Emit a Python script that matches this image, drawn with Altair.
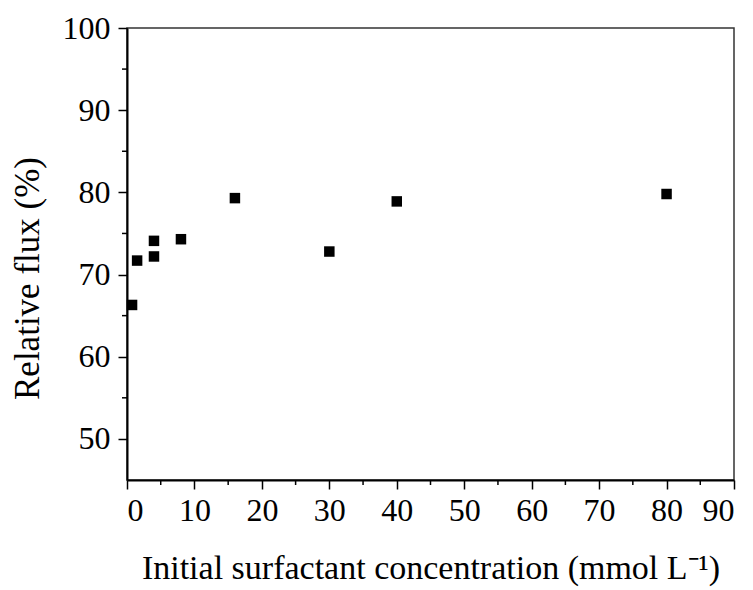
import altair as alt
import pandas as pd

# Data
concentration = [0.75, 1.5, 4, 4, 8, 16, 30, 40, 80]
relative_flux = [66.3, 71.7, 72.2, 74.1, 74.3, 79.3, 72.8, 78.9, 79.8]

x_major = list(range(0, 91, 10))
x_minor = list(range(5, 90, 10))
y_major = list(range(50, 101, 10))
y_minor = list(range(55, 100, 10))

df = pd.DataFrame({"c": concentration, "flux": relative_flux})
df_xm = pd.DataFrame({"c": x_minor})
df_ym = pd.DataFrame({"flux": y_minor})

FONT = "Liberation Serif"
W, H = 607, 452

xscale = alt.Scale(domain=[0, 90], nice=False, zero=False)
yscale = alt.Scale(domain=[45, 100], nice=False, zero=False)

x_axis = alt.Axis(
    values=x_major,
    tickSize=9,
    title="Initial surfactant concentration (mmol L\u207b\u00b9)",
    titlePadding=25,
    titleFontSize=34,
    labelPadding=6,
)
y_axis = alt.Axis(
    values=y_major,
    tickSize=9,
    title="Relative flux (%)",
    titleX=-82,
    titleY=250,
    labelPadding=8,
)

points = alt.Chart(df).mark_square(size=110, color="black", opacity=1).encode(
    x=alt.X("c:Q", scale=xscale, axis=x_axis),
    y=alt.Y("flux:Q", scale=yscale, axis=y_axis),
)

x_minor_ticks = alt.Chart(df_xm).mark_rule(color="black", strokeWidth=1.5).encode(
    x=alt.X("c:Q", scale=xscale, axis=x_axis),
    y=alt.value(H),
    y2=alt.value(H + 5),
)

y_minor_ticks = alt.Chart(df_ym).mark_rule(color="black", strokeWidth=1.5).encode(
    y=alt.Y("flux:Q", scale=yscale, axis=y_axis),
    x=alt.value(0),
    x2=alt.value(-5),
)

chart = alt.layer(points, x_minor_ticks, y_minor_ticks).properties(
    width=W,
    height=H,
    padding={"left": 119, "top": 20, "right": 10, "bottom": 110},
    autosize=alt.AutoSizeParams(type="none"),
    background="white",
).configure_view(
    stroke="#333333", strokeWidth=1.5
).configure_axis(
    grid=False,
    domainColor="black",
    domainWidth=2,
    tickColor="black",
    tickWidth=1.5,
    labelFont=FONT,
    labelFontSize=32,
    labelColor="black",
    titleFont=FONT,
    titleFontSize=35,
    titleFontWeight="normal",
    titleColor="black",
)

chart.save("out.html", embed_options={"renderer": "svg", "actions": False})
